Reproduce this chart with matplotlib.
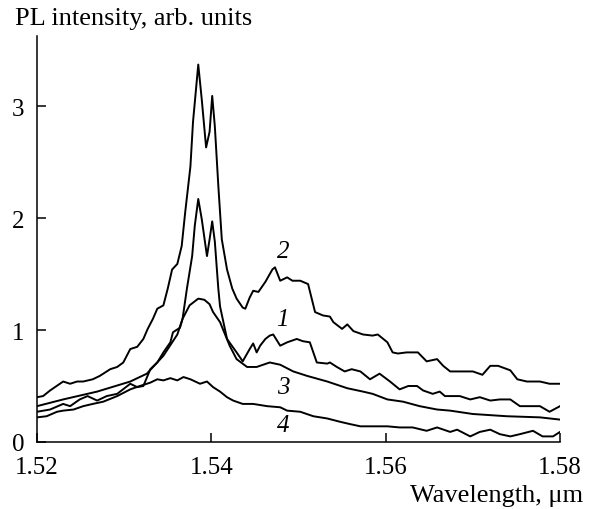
import numpy as np
import matplotlib
matplotlib.use("Agg")
import matplotlib.pyplot as plt

# PL spectra, wavelength in um, intensity in arb. units
wl_1 = [1.5200, 1.5215, 1.5230, 1.5238, 1.5249, 1.5258, 1.5269, 1.5280, 1.5292,
        1.5307, 1.5315, 1.5322, 1.5330, 1.5338, 1.5345, 1.5353, 1.5356, 1.5364,
        1.5367, 1.5372, 1.5378, 1.5381, 1.5385, 1.5389, 1.5395, 1.5398, 1.5401,
        1.5404, 1.5408, 1.5410, 1.5418, 1.5429, 1.5436, 1.5444, 1.5448, 1.5452,
        1.5456, 1.5462, 1.5467, 1.5471, 1.5479, 1.5487, 1.5498, 1.5505, 1.5513,
        1.5521, 1.5533, 1.5536, 1.5544, 1.5553, 1.5561, 1.5571, 1.5582, 1.5593,
        1.5605, 1.5616, 1.5626, 1.5636, 1.5643, 1.5654, 1.5662, 1.5668, 1.5674,
        1.5685, 1.5697, 1.5708, 1.5720, 1.5731, 1.5743, 1.5754, 1.5766, 1.5777,
        1.5788, 1.5800]
pl_1 = [0.27, 0.29, 0.34, 0.32, 0.38, 0.41, 0.37, 0.41, 0.43,
        0.52, 0.49, 0.50, 0.65, 0.71, 0.80, 0.89, 0.98, 1.02,
        1.10, 1.37, 1.66, 1.93, 2.17, 1.99, 1.66, 1.81, 1.97,
        1.79, 1.37, 1.21, 0.92, 0.80, 0.72, 0.83, 0.88, 0.80,
        0.86, 0.92, 0.95, 0.96, 0.86, 0.89, 0.92, 0.90, 0.89,
        0.71, 0.70, 0.71, 0.67, 0.63, 0.65, 0.63, 0.56, 0.61,
        0.54, 0.47, 0.50, 0.50, 0.46, 0.43, 0.45, 0.41, 0.41,
        0.41, 0.38, 0.40, 0.37, 0.38, 0.38, 0.32, 0.32, 0.32,
        0.27, 0.32]

wl_2 = [1.5200, 1.5207, 1.5215, 1.5230, 1.5238, 1.5246, 1.5253, 1.5264, 1.5272,
        1.5284, 1.5292, 1.5299, 1.5307, 1.5315, 1.5322, 1.5327, 1.5333, 1.5338,
        1.5345, 1.5350, 1.5355, 1.5361, 1.5366, 1.5370, 1.5376, 1.5379, 1.5385,
        1.5389, 1.5394, 1.5398, 1.5401, 1.5404, 1.5408, 1.5412, 1.5418, 1.5424,
        1.5429, 1.5436, 1.5439, 1.5444, 1.5448, 1.5454, 1.5462, 1.5470, 1.5473,
        1.5479, 1.5487, 1.5493, 1.5502, 1.5511, 1.5519, 1.5528, 1.5536, 1.5540,
        1.5550, 1.5556, 1.5563, 1.5574, 1.5585, 1.5591, 1.5602, 1.5608, 1.5614,
        1.5624, 1.5637, 1.5647, 1.5659, 1.5666, 1.5674, 1.5689, 1.5700, 1.5711,
        1.5720, 1.5729, 1.5743, 1.5751, 1.5762, 1.5777, 1.5788, 1.5800]
pl_2 = [0.40, 0.41, 0.46, 0.54, 0.52, 0.54, 0.54, 0.56, 0.59,
        0.65, 0.67, 0.71, 0.83, 0.85, 0.92, 1.01, 1.10, 1.19,
        1.22, 1.37, 1.54, 1.59, 1.75, 2.05, 2.46, 2.86, 3.37,
        3.06, 2.63, 2.77, 3.09, 2.82, 2.29, 1.81, 1.54, 1.37,
        1.28, 1.20, 1.19, 1.29, 1.35, 1.34, 1.43, 1.54, 1.56,
        1.44, 1.47, 1.44, 1.44, 1.41, 1.16, 1.13, 1.12, 1.07,
        1.01, 1.05, 0.99, 0.96, 0.95, 0.96, 0.89, 0.80, 0.79,
        0.80, 0.80, 0.72, 0.74, 0.68, 0.63, 0.63, 0.63, 0.60,
        0.68, 0.68, 0.64, 0.56, 0.54, 0.54, 0.52, 0.52]

wl_3 = [1.5200, 1.5230, 1.5269, 1.5307, 1.5326, 1.5345, 1.5361, 1.5367, 1.5375,
        1.5385, 1.5392, 1.5398, 1.5402, 1.5410, 1.5421, 1.5429, 1.5441, 1.5452,
        1.5467, 1.5479, 1.5494, 1.5510, 1.5533, 1.5556, 1.5574, 1.5585, 1.5602,
        1.5620, 1.5639, 1.5659, 1.5674, 1.5700, 1.5739, 1.5777, 1.5800]
pl_3 = [0.32, 0.38, 0.45, 0.54, 0.61, 0.77, 0.96, 1.10, 1.22,
        1.28, 1.27, 1.23, 1.16, 1.07, 0.86, 0.74, 0.67, 0.67,
        0.71, 0.69, 0.63, 0.59, 0.54, 0.48, 0.45, 0.43, 0.38,
        0.36, 0.32, 0.29, 0.28, 0.25, 0.23, 0.22, 0.20]

wl_4 = [1.5200, 1.5211, 1.5223, 1.5230, 1.5242, 1.5253, 1.5264, 1.5276, 1.5292,
        1.5307, 1.5318, 1.5330, 1.5338, 1.5345, 1.5353, 1.5361, 1.5368, 1.5376,
        1.5387, 1.5395, 1.5402, 1.5410, 1.5418, 1.5425, 1.5436, 1.5448, 1.5464,
        1.5479, 1.5487, 1.5502, 1.5517, 1.5533, 1.5548, 1.5559, 1.5571, 1.5585,
        1.5602, 1.5616, 1.5631, 1.5647, 1.5659, 1.5674, 1.5682, 1.5697, 1.5708,
        1.5720, 1.5731, 1.5743, 1.5754, 1.5769, 1.5780, 1.5792, 1.5800]
pl_4 = [0.22, 0.23, 0.27, 0.28, 0.29, 0.32, 0.34, 0.36, 0.41,
        0.47, 0.50, 0.53, 0.56, 0.55, 0.57, 0.55, 0.58, 0.56,
        0.52, 0.54, 0.49, 0.45, 0.40, 0.37, 0.34, 0.34, 0.32,
        0.31, 0.28, 0.27, 0.23, 0.21, 0.18, 0.16, 0.14, 0.14,
        0.14, 0.13, 0.13, 0.10, 0.13, 0.09, 0.11, 0.05, 0.09,
        0.11, 0.07, 0.05, 0.07, 0.10, 0.05, 0.05, 0.09]

curve_labels = ["1", "2", "3", "4"]
label_x = [1.5482, 1.5482, 1.5482, 1.5482]
label_y = [1.10, 1.705, 0.49, 0.15]

x_ticks = [1.52, 1.54, 1.56, 1.58]
y_ticks = [0, 1, 2, 3]

plt.rcParams["font.family"] = ["Liberation Serif", "DejaVu Serif"]

fig = plt.figure(figsize=(5.94, 5.10), dpi=100)
ax = fig.add_axes([37 / 594, 67 / 510, 523 / 594, 406 / 510])

for wl, pl in [(wl_1, pl_1), (wl_2, pl_2), (wl_3, pl_3), (wl_4, pl_4)]:
    ax.plot(wl, pl, color="black", lw=1.4)

for txt, x, y in zip(curve_labels, label_x, label_y):
    ax.text(x, y, txt, fontsize=18, style="italic", ha="center", va="center")

ax.set_xlim(1.52, 1.58)
ax.set_ylim(0, 3.625)
ax.set_xticks(x_ticks)
ax.set_xticklabels(["1.52", "1.54", "1.56", "1.58"])
ax.set_yticks(y_ticks)
ax.tick_params(direction="in", length=6.5, width=1.1, labelsize=18)
ax.tick_params(axis="x", pad=10)
ax.tick_params(axis="y", pad=9)

for side in ["top", "right"]:
    ax.spines[side].set_visible(False)
for side in ["left", "bottom"]:
    ax.spines[side].set_linewidth(1.1)

fig.text(15 / 594, 485 / 510, "PL intensity, arb. units", fontsize=19,
         ha="left", va="baseline")
fig.text(583 / 594, 8 / 510, "Wavelength, \u03bcm", fontsize=19,
         ha="right", va="baseline")

fig.savefig("out.png", dpi=100)
